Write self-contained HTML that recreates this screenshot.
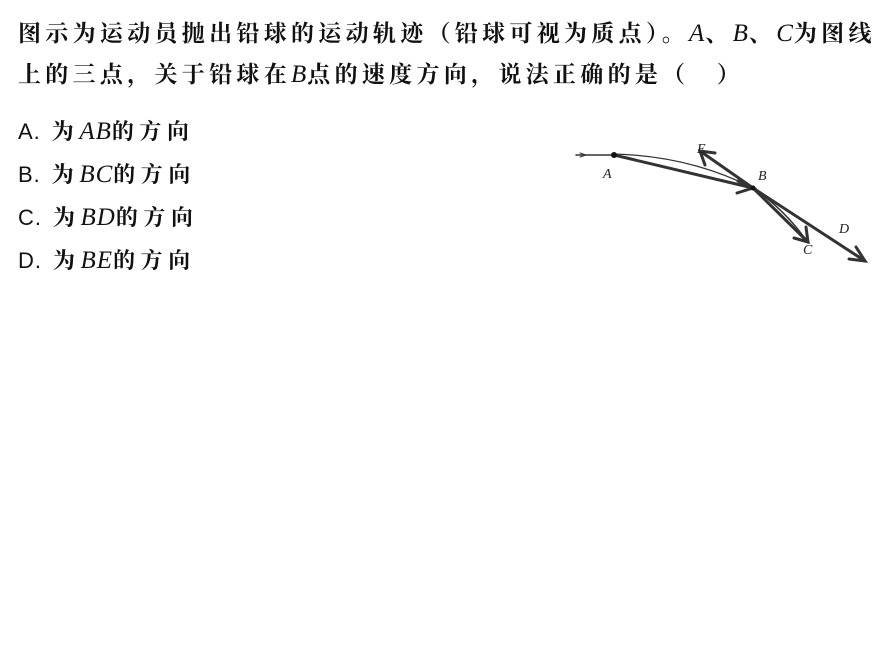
<!DOCTYPE html>
<html><head><meta charset="utf-8"><style>
body{margin:0;width:892px;height:670px;background:#fff;position:relative;overflow:hidden;font-family:"Liberation Serif","Noto Serif CJK SC",serif;color:#111}
.t{position:absolute;white-space:nowrap;font-size:23px;font-weight:bold;letter-spacing:4.3px}
.o{position:absolute;white-space:nowrap;font-size:22px;font-weight:bold;letter-spacing:5.5px}
.o .l{font-family:"Liberation Sans",sans-serif;font-weight:normal;letter-spacing:1px}
i{font-weight:normal;font-family:"Liberation Serif",serif;font-size:25px;letter-spacing:1px}
</style></head><body>
<div class="t" style="left:18px;top:15px;">图示为运动员抛出铅球的运动轨迹（铅球可视为质点）。<i>A</i>、<i>B</i>、<i>C</i>为图线</div>
<div class="t" style="left:18px;top:56px;">上的三点，关于铅球在<i>B</i>点的速度方向，说法正确的是（　）</div>
<div class="o" style="left:18px;top:115px;"><span class="l">A.</span> 为<i>AB</i>的方向</div>
<div class="o" style="left:18px;top:158px;"><span class="l">B.</span> 为<i>BC</i>的方向</div>
<div class="o" style="left:18px;top:201px;"><span class="l">C.</span> 为<i>BD</i>的方向</div>
<div class="o" style="left:18px;top:244px;"><span class="l">D.</span> 为<i>BE</i>的方向</div>
<svg style="position:absolute;left:0;top:0" width="892" height="670">
<g stroke="#333" fill="none" stroke-linecap="round">
<line x1="576" y1="155" x2="614" y2="155" stroke-width="1.5"/>
<path d="M580 153 L586 155 L580 157" stroke-width="1"/>
<path d="M614 154 Q690 156 753 188" stroke-width="1.3"/>
<path d="M753 188 Q785 210 806 240" stroke-width="1.5"/>
<line x1="614" y1="155" x2="753" y2="188" stroke-width="3"/>
<path d="M737 193 L753 188 L738 181" stroke-width="3"/>
<line x1="753" y1="188" x2="700" y2="151" stroke-width="3"/>
<path d="M715 153 L700 151 L705 165" stroke-width="3"/>
<line x1="753" y1="188" x2="808" y2="242" stroke-width="3"/>
<path d="M806 227 L808 242 L794 238" stroke-width="3"/>
<line x1="753" y1="188" x2="865" y2="261" stroke-width="3"/>
<path d="M856 247 L865 261 L849 259" stroke-width="3"/>
</g>
<circle cx="614" cy="155" r="3" fill="#111"/>
<circle cx="753" cy="188" r="2.5" fill="#111"/>
<g font-family="Liberation Serif,serif" font-style="italic" font-size="14" fill="#222">
<text x="603" y="178">A</text><text x="758" y="180">B</text><text x="697" y="153">E</text><text x="803" y="254">C</text><text x="839" y="233">D</text>
</g>
</svg>
</body></html>
